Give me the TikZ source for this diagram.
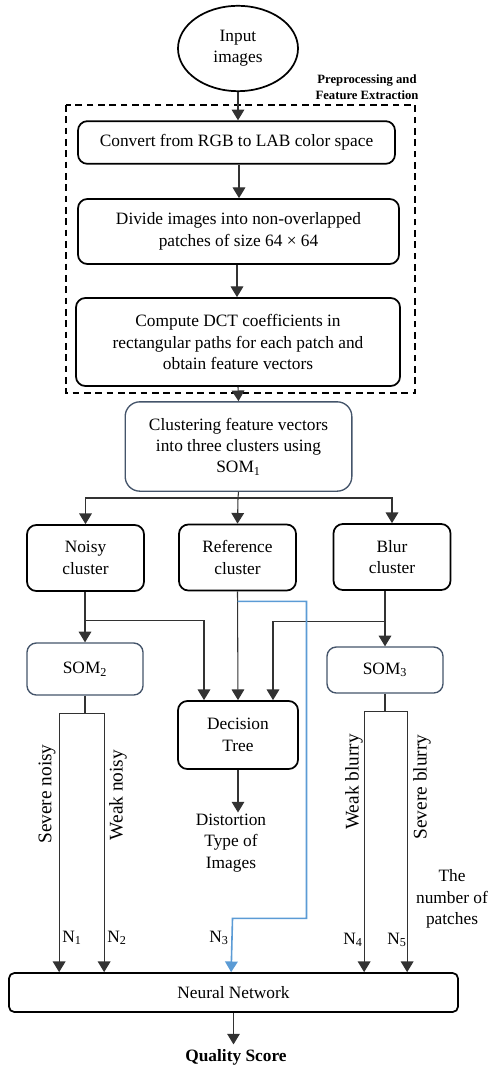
\documentclass[tikz,border=0pt]{standalone}
\usepackage{fontspec}
\setmainfont{Liberation Serif}
\usetikzlibrary{arrows.meta,shapes.geometric,calc}
\definecolor{slate}{RGB}{68,84,106}
\definecolor{flowblue}{RGB}{91,155,213}
\definecolor{linegray}{RGB}{50,50,50}

\begin{document}
\begin{tikzpicture}[x=0.75pt, y=-0.75pt, >={Triangle[length=8pt,width=9.5pt]},
    every node/.style={font=\fontsize{13}{16}\selectfont},
    box/.style={draw, rounded corners=7pt, line width=1.3pt, align=center, inner sep=2pt},
    somb/.style={draw=slate, rounded corners=7pt, line width=1pt, align=center, inner sep=2pt},
    flow/.style={->, line width=0.8pt, draw=linegray},
    side/.style={rotate=90, font=\fontsize{14.5}{17}\selectfont}]
    \useasboundingbox (0,0) rectangle (488,1069);

    % preprocessing stage
    \draw[dashed, line width=1.3pt, dash pattern=on 5pt off 3.5pt] (66,105) rectangle (415,393);
    \node[font=\bfseries\fontsize{9.5}{12}\selectfont, align=center] (stage) at (367,87) {Preprocessing and\\Feature Extraction};

    \node[draw, ellipse, line width=1.3pt, minimum width=90pt, minimum height=64pt, inner sep=0pt, align=center] (input) at (238,48.5) {Input\\images};
    \node[box, minimum width=237.75pt, minimum height=32pt] (conv) at (236.5,142.5) {Convert from RGB to LAB color space};
    \node[box, minimum width=240.75pt, minimum height=48.75pt] (divide) at (238.5,231.5) {Divide images into non-overlapped\\patches of size 64 × 64};
    \node[box, minimum width=243pt, minimum height=66pt] (dct) at (238,342) {Compute DCT coefficients in\\rectangular paths for each patch and\\obtain feature vectors};

    % clustering
    \node[somb, rounded corners=11pt, minimum width=170pt, minimum height=67pt] (clust) at (238.5,446.5) {Clustering feature vectors\\into three clusters using\\SOM\textsubscript{1}};
    \node[box, minimum width=87.75pt, minimum height=49.5pt] (noisy) at (85.5,558) {Noisy\\cluster};
    \node[box, minimum width=87.75pt, minimum height=49.5pt] (ref) at (237.5,557.5) {Reference\\cluster};
    \node[box, minimum width=87.75pt, minimum height=49.5pt] (blur) at (392,557) {Blur\\cluster};

    \node[somb, minimum width=87pt, minimum height=39pt] (som2) at (85,669) {SOM\textsubscript{2}};
    \node[somb, minimum width=87pt, minimum height=34.5pt] (som3) at (385,670) {SOM\textsubscript{3}};
    \node[box, minimum width=90pt, minimum height=51pt] (dtree) at (238,735) {Decision\\Tree};
    \node[align=center, inner sep=1pt] (dist) at (231,843) {Distortion\\Type of\\Images};

    \node[box, rounded corners=4pt, minimum width=336.75pt, minimum height=29.25pt] (nn) at (233.5,992.5) {Neural Network};
    \node[font=\bfseries\fontsize{13}{16}\selectfont] (quality) at (236,1057) {Quality Score};

    % labels
    \node[side] (sevnoisy) at (47,794) {Severe noisy};
    \node[side] (weaknoisy) at (118,795) {Weak noisy};
    \node[side] (weakblur) at (354,782) {Weak blurry};
    \node[side] (sevblur) at (422,787) {Severe blurry};
    \node[align=center] (patches) at (452,899) {The\\number of\\patches};
    \node (n1) at (72,938) {N\textsubscript{1}};
    \node (n2) at (117,938) {N\textsubscript{2}};
    \node (n3) at (219,938) {N\textsubscript{3}};
    \node (n4) at (353,940) {N\textsubscript{4}};
    \node (n5) at (397,940) {N\textsubscript{5}};

    % connectors
    \draw[flow] (input.south) -- (input.south |- conv.north);
    \draw[flow] (conv.south -| 239,0) -- (divide.north -| 239,0);
    \draw[flow] (divide.south -| 237,0) -- (dct.north -| 237,0);
    \draw[flow] (dct.south) -- (clust.north);

    \coordinate (split) at (238,498);
    \draw[line width=0.8pt, draw=linegray] (clust.south) -- (split);
    \draw[flow] (split) -| (noisy.north);
    \draw[flow] (split) -- (ref.north);
    \draw[flow] (split) -| (blur.north);

    \draw[flow] (noisy.south -| som2.north) -- (som2.north);
    \draw[flow] (noisy.south -| som2.north) ++(0,29) -| ($(dtree.north)+(-34,0)$);
    \draw[flow] (ref.south) -- (dtree.north);
    \draw[flow] (blur.south -| som3.north) -- (som3.north);
    \draw[flow] (blur.south -| som3.north) ++(0,31) -| ($(dtree.north)+(35,0)$);
    \draw[->, line width=1.2pt, draw=flowblue, >={Triangle[length=8pt,width=9.5pt,fill=flowblue]}]
        (ref.south) ++(0,10) -- ++(69,0) -- ++(0,317) -- ++(-74,0) -- ($(nn.north west)+(223,0)$);
    \draw[flow] (dtree.south) -- (dtree.south |- dist.north);

    \draw[flow] (som2.south) -- ++(0,18) -| ($(nn.north west)+(51,0)$);
    \draw[flow] (som2.south) ++(0,18) -| ($(nn.north west)+(96,0)$);
    \draw[flow] (som3.south) -- ++(0,18) -| ($(nn.north west)+(356,0)$);
    \draw[flow] (som3.south) ++(0,18) -| ($(nn.north west)+(399,0)$);

    \draw[flow] (nn.south) -- (nn.south |- quality.north);
\end{tikzpicture}
\end{document}
